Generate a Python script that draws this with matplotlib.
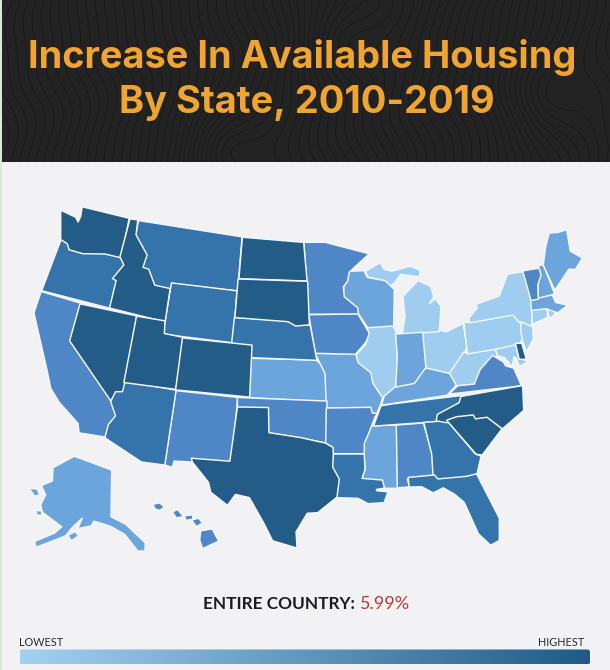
import numpy as np
import matplotlib.pyplot as plt
from matplotlib.colors import LinearSegmentedColormap
from matplotlib.patches import Polygon, FancyBboxPatch, Rectangle

# State outlines, in image pixels (x, y)
WA = [(61.7,211.7),(75,218),(78,224),(81.7,216.7),(83,208),(128,219),(120.7,256.7),(105,253),(83,252.7),(70,249),(68,243),(61.7,239)]
OR = [(61.7,240.7),(67.7,243),(68,250),(82.7,254),(104,254),(120.7,258),(125,264),(113,279),(116.7,281),(109,307),(43,290)]
CA = [(41.7,292.7),(80,304),(70.7,340.7),(110.7,401.7),(116,416),(108,425),(105,436),(80,432),(79,423),(60,401.7),(51.7,388),(48,370),(35,313)]
NV = [(80.7,305),(135.7,316.7),(124,381.7),(121.7,390.7),(115,390.7),(110.7,399),(70.7,340.7)]
ID = [(130.7,220),(136.7,220.7),(135,235),(146,255),(141.7,268),(148,270),(154,286),(169,289.3),(164.3,320.7),(110.7,307.3),(117.3,280),(114,278.3),(125,265),(121,256.7)]
MT = [(139.3,221.7),(241,237.7),(236.7,290),(171.7,282.7),(169.7,288.7),(155,285),(149.3,269.3),(143.3,267.7),(146.7,255),(136.7,235)]
WY = [(172.3,284),(236,291.7),(232,341.7),(164,333.3)]
UT = [(137.3,317.3),(164,321.7),(163.3,334.3),(182.7,338.3),(175,388.3),(125,381.7)]
CO = [(183.3,339),(251,346),(248.7,396),(176.7,389)]
ND = [(243.3,238.3),(302.7,243.3),(306,280),(240,277.7)]
SD = [(239,280),(306.7,282.3),(308.3,324),(296,325),(288.3,320.7),(236,316.7)]
NE = [(235.3,318.3),(287.7,322),(295.3,326.3),(309.3,326),(315.7,359.3),(252.3,356.7),(251,345),(232.7,342.7)]
KS = [(251.7,359.3),(316,361),(320,365),(326,375),(326,400.7),(250,396.7)]
OK = [(238.3,398.5),(326,402),(326,442),(300,437),(269.5,432),(268.5,407),(238.5,406.5)]
TX = [(238.3,408),(267.5,408.5),(268,433.5),(300,438.5),(325,444),(332,448),(332.3,454),(331.7,467.3),(338.3,479.3),(336,496.7),
      (317.3,511.7),(306.7,512.3),(295,531.7),(296,546.7),(273.3,540),(265,523.3),(250,496.7),(235,493.3),(227.3,504),(211.7,491.7),
      (209.3,481.7),(193.3,461.7),(192.7,459.3),(230.7,462.3)]
NM = [(176.7,391.7),(236.7,398.3),(231,461),(192.7,458.3),(191.7,461),(173.3,460),(171.7,466),(165.7,464.3)]
AZ = [(124,381.7),(175,391),(164,464),(141.7,461),(106,437.3),(109.3,425),(116.7,416),(111.7,401.7),(115,391.7),(121.7,391.7)]
MN = [(305,243.3),(325,243.3),(367.3,254.3),(348.3,271.7),(346.7,280.7),(342.3,286.7),(343.3,297.3),(356.7,308.3),(357.3,313.3),(309.3,313.3)]
IA = [(310,315.7),(357.3,315),(368.3,333.3),(365,341.7),(355,353.3),(316,352.3)]
MO = [(316.7,354.3),(355,355),(357.3,363.3),(370,373.3),(371.7,383.3),(381.7,398.3),(376,413.3),(371.7,412.7),(370.7,406.7),(327.3,407.3),(326,373.3)]
WI = [(350,272.3),(363.3,271.7),(366.7,278.3),(385,281.7),(393.3,290),(392.7,325),(368.3,326.7),(359.3,313.3),(357.3,306.7),(344,297.3),(345,286),(348.3,280.7)]
MI_UP = [(366.7,271.7),(380,264),(383.3,270),(391.7,272.3),(410,267.3),(419.3,271),(418.3,275.7),(400,273.3),(394.3,281.7),(390,285),(385,280),(368.3,276)]
MI_LP = [(404,296.7),(418.3,281.7),(430,287.3),(432.7,296.7),(428.3,305),(435,300),(440,306.7),(438.3,330.7),(403.3,333.3),(406,316.7)]
IL = [(368.3,328.3),(391.7,325.7),(395,331.7),(396.7,356.7),(395,386.7),(383.3,398.3),(371.7,383.3),(370.7,373.3),(358.3,362.7),(357.3,355),(366.7,345),(369.3,334)]
IN = [(396.7,335),(421.7,333.3),(425,368.3),(415,383.3),(396.7,386.7),(398.3,356.7)]
OH = [(422.7,332.7),(436.7,330.7),(446.7,332.7),(462.3,325),(466,346.7),(463.3,353.3),(449.3,373.3),(426.7,367.7)]
KY = [(426,369),(449,374.3),(455,385),(446.7,394.3),(383,404),(385,396.7),(395,388.3),(415,384.3)]
WV = [(464,353.3),(466.7,354),(495,350),(496.7,355.7),(491.7,356.7),(480,370),(474,383.3),(456.7,385),(450.7,373.3)]
PA = [(465,323.3),(470,323.3),(513.3,315),(520,323.3),(522.3,338.3),(516.7,345),(468.3,352.7)]
NY = [(470.7,321.7),(470,318.3),(478.3,308.3),(477.3,305),(500,296.7),(508.3,275),(523.3,272.7),(531,299.3),(530.7,325),(520,321.7),(513.3,314)]
VT = [(524,271.7),(538.3,269.3),(540,275),(536.7,285),(537.3,298.3),(531.7,299.3)]
NH = [(539.3,266.7),(542.7,265.7),(553.3,293.3),(539.3,297.7),(538.7,285),(541.7,275)]
ME = [(550,234),(558.3,233.3),(566,231),(569.3,251.7),(581,258.3),(575,268.3),(568.3,268.3),(555,288.3),(544.3,265),(546.7,246.7)]
MA = [(531.7,300.7),(551.7,296),(555,303.3),(566,305.7),(557.3,311.7),(546.7,307.7),(532.3,309.3)]
CT = [(532.7,310.7),(545.7,308.3),(546.7,316.7),(533.3,322.7)]
RI = [(548.3,308.3),(552.3,310),(554,314),(550,316.7)]
NJ = [(521.7,323.3),(531.7,327.3),(532.3,338.3),(526.7,350),(523.3,340),(522,332)]
DE = [(516.7,344.3),(521,344.3),(525,358.3),(520,358.3)]
MD = [(496.7,350),(515,346),(518.3,358.3),(526,361.7),(520,365),(516.7,356.7),(513,356),(511.7,365),(505,356.7),(498.3,355)]
VA = [(450.7,393.3),(458.3,386.7),(475,385),(481,370),(492.7,356.7),(502.7,362.7),(505,366.7),(513,369),(520,385)]
NC = [(521.7,386.7),(522.7,410),(502.3,427.7),(486.7,416.7),(475,419.3),(471.7,415),(456.7,416.7),(446.7,421.7),(437.3,420),(438.3,415),(460,403.3),(461.7,397.3)]
TN = [(381.7,406.7),(391.7,405),(460,396.7),(459.3,401.7),(436.7,415),(436,420.7),(375,425)]
SC = [(448.3,420.7),(456.7,417.7),(472.7,416),(475,420),(486.7,418.3),(500.7,429),(481.7,454),(476.7,453.3)]
GA = [(425,423.3),(446.7,421.7),(475,455),(480,456.7),(475.7,475),(468.3,475),(466,477.3),(437.3,479),(434,475),(432.7,454)]
AL = [(397.3,426),(422.7,424),(431.7,455),(432.7,475),(406,478.3),(408.3,486),(398.3,486.7)]
MS = [(370.7,426.7),(395.7,426),(396.7,487.3),(385,487.3),(382.7,481),(362.7,479.3),(366,470),(364,443.3)]
AR = [(327.3,409),(370,408.3),(371.7,414),(376,414.3),(374,416.7),(368.3,431.7),(363.3,443.3),(363.3,452.7),(333.3,452.7),(332.7,446),(326.7,442.7)]
LA = [(333.3,455),(363.3,455),(364,469.3),(360.7,479.3),(381.7,481),(383.3,487.3),(375,488.7),(376,491.7),(386.7,492.7),(383.3,501.7),(368.3,502.7),(358.3,497.3),(336,496.7),(338.3,479.3),(332.3,467.3)]
FL = [(409.3,478.3),(434,476),(437.3,480),(466.7,477.3),(476,475),(498.3,518.3),(498.3,540),(490.7,544),(479.3,533.3),(465,501.7),(455,493.3),(443.3,486.7),(433.3,491.7),(421.7,485.7),(410,486)]
AK = [(74.3,457.3),(110.7,470.7),(110,517.3),(125,525),(144.3,543.3),(144,550),(138.3,550),(125,533.3),(110,525),(93.3,520),(90.7,525),(79.3,527.3),(83.3,516.7),(71.7,526.7),
      (65,535),(36.7,546),(35.7,542),(55,534),(63.3,526.7),(43.3,511.7),(41.7,505),(46.7,495),(42.7,486),(53.3,481.7),(54,468.3)]
AK_ISLE1 = [(30.7,489.3),(36.7,490),(38.3,494.3),(35,495)]
AK_ISLE2 = [(36.7,511.7),(40.7,511.7),(40.7,514.3),(38.3,514.3)]
AK_ISLE3 = [(69.3,535.7),(75,532.7),(77.3,535.7),(71.7,539.3)]
HI_1 = [(154.3,505),(159.3,504),(162.7,506.7),(160,509.3),(156,508.3)]
HI_2 = [(174,512.3),(177.3,510.7),(181.7,516),(176.7,516.7)]
HI_3 = [(185.7,516.7),(191.7,516),(191.7,518.3),(186.7,519.3)]
HI_4 = [(193.3,520.7),(198.3,519.3),(201,522.7),(196.7,525.3)]
HI_5 = [(201.7,531.7),(211.7,530),(217.3,540.7),(210,544),(203.3,547.3),(200.7,540)]

# Shade bin of each state, 1 = lowest, 5 = highest
level_1 = [IL, OH, WV, PA, NY, NJ, MD, CT, RI, MI_UP, MI_LP]
level_2 = [KS, MO, WI, IN, KY, MS, NH, ME, MA, AK, AK_ISLE1, AK_ISLE2, AK_ISLE3]
level_3 = [CA, NM, MN, IA, OK, AR, AL, VA, VT, HI_1, HI_2, HI_3, HI_4, HI_5]
level_4 = [OR, MT, WY, NE, AZ, LA, TN, GA, FL]
level_5 = [WA, ID, NV, UT, CO, ND, SD, TX, NC, SC, DE]
levels = [level_1, level_2, level_3, level_4, level_5]
level_colors = ["#9ecdef", "#6ba5dc", "#4f86c6", "#3474aa", "#235c87"]

title_lines = ["Increase In Available Housing", "By State, 2010-2019"]
country_label = "ENTIRE COUNTRY:"
country_value = "5.99%"

BG = "#f2f2f5"


def grow(outline, d=1.0):
    # push each vertex outwards so traced neighbours close the gaps between them
    pts = np.array(outline, dtype=float)
    x, y = pts[:, 0], pts[:, 1]
    area = np.sum(x * np.roll(y, -1) - np.roll(x, -1) * y)
    out = []
    n = len(pts)
    for i in range(n):
        a = pts[i] - pts[i - 1]
        b = pts[(i + 1) % n] - pts[i]
        a = a / np.hypot(*a)
        b = b / np.hypot(*b)
        na = np.array([a[1], -a[0]])
        nb = np.array([b[1], -b[0]])
        if area < 0:
            na, nb = -na, -nb
        m = na + nb
        m = m / max(np.hypot(*m), 1e-6)
        scale = min(1 / max(m @ na, 0.3), 2.0)
        out.append(pts[i] + m * d * scale)
    return out


fig = plt.figure(figsize=(6.1, 6.7), dpi=100, facecolor=BG)
ax = fig.add_axes([0, 0, 1, 1])
ax.set_axis_off()

# header band with wood grain lines
ax.add_patch(Rectangle((0, 0), 610, 162, fc="#232323", ec="none", zorder=1))
gx, gy = np.meshgrid(np.linspace(0, 610, 500), np.linspace(0, 162, 200))
grain = (gx + 10 * np.sin(gy / 30 + gx / 90) + 2.5 * np.sin(gy / 12 + gx / 37)
         + 45 * np.exp(-((gx - 225) ** 2 + (gy - 150) ** 2) / 1400)
         + 45 * np.exp(-((gx - 340) ** 2 + (gy - 40) ** 2) / 1600)
         + 45 * np.exp(-((gx - 545) ** 2 + (gy - 100) ** 2) / 1500))
ax.contour(gx, gy, grain, levels=np.arange(-30, 680, 9), colors="#171717", linewidths=0.5, zorder=2)

# thin pale strip down the left edge
ax.add_patch(Rectangle((0, 0), 1.6, 670, fc="#d6ead6", ec="none", zorder=2))

for states, color in zip(levels, level_colors):
    for outline in states:
        ax.add_patch(Polygon(grow(outline), closed=True, fc=color, ec="#f3f6fb", lw=1.05, joinstyle="round", zorder=3))

for line, x, y in zip(title_lines, [302, 306.5], [68, 113]):
    ax.text(x, y, line, color="#f0a431", fontsize=27.3, fontweight="bold", family="Inter",
            ha="center", va="baseline", zorder=4)

ax.text(203, 609, country_label, color="#1c1c1e", fontsize=12.4, fontweight="bold", family="Lato",
        ha="left", va="baseline", zorder=4)
ax.text(360, 609, country_value, color="#b93a3a", fontsize=13, family="Lato",
        ha="left", va="baseline", zorder=4)
ax.text(19.5, 645.5, "LOWEST", color="#2a2a2a", fontsize=7.8, family="Lato", ha="left", va="baseline", zorder=4)
ax.text(584.5, 645.5, "HIGHEST", color="#2a2a2a", fontsize=7.8, family="Lato", ha="right", va="baseline", zorder=4)

# legend gradient
cmap = LinearSegmentedColormap.from_list("bar", ["#a2d2f2", "#1f5a87"])
im = ax.imshow(np.linspace(0, 1, 256).reshape(1, -1), cmap=cmap, extent=(19.5, 590, 664.5, 649.5),
               aspect="auto", zorder=3)
clip = FancyBboxPatch((19.5, 649.5), 570.5, 15, boxstyle="round,pad=0,rounding_size=2.5",
                      fc="none", ec="none", transform=ax.transData)
ax.add_patch(clip)
im.set_clip_path(clip)

ax.set_xlim(0, 610)
ax.set_ylim(670, 0)

fig.savefig("out.png", dpi=100, facecolor=BG)
plt.close(fig)
